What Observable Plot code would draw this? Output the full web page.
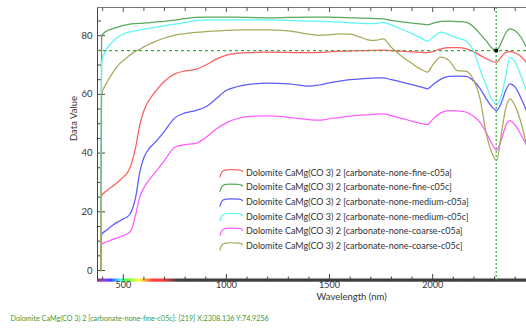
<!DOCTYPE html>
<html><head><meta charset="utf-8">
<script src="https://cdn.jsdelivr.net/npm/d3@7"></script>
<script src="https://cdn.jsdelivr.net/npm/@observablehq/plot@0.6"></script>
<style>body{margin:0;background:#fff;} #chart{width:526px;height:329px;overflow:hidden}</style>
</head><body><div id="chart"></div>
<script>
// ---- data ----
const wavelengths = [390,395,420,450,480,500,520,540,560,580,600,625,650,700,750,800,850,900,950,1000,1050,1100,1200,1300,1400,1450,1500,1550,1600,1650,1700,1730,1760,1800,1850,1900,1950,1975,2000,2040,2080,2120,2160,2200,2230,2260,2285,2310,2335,2355,2375,2400,2430,2460];
const fineC05a   = [0,25.5,27.2,28.8,30.5,31.8,33.3,36.5,42,49.5,54.5,58,60.5,64.5,67,68,68.5,70,72,73.4,74,74.2,74.4,74.3,74.2,74.3,74.5,74.7,74.8,74.9,75.0,75.0,75.1,74.9,74.7,74.5,74.3,74.2,74.6,75.5,75.9,75.9,75.6,74.5,73.3,72.2,71.3,71.0,73.0,74.3,74.6,74.2,72.8,70.3];
const fineC05c   = [0,80.0,81.6,82.4,83.1,83.5,83.8,84.0,84.1,84.2,84.3,84.4,84.6,84.9,85.3,85.8,86.2,86.3,86.3,86.3,86.3,86.2,86.1,86.2,86.3,86.3,86.3,86.2,86.1,86.0,85.9,85.8,85.7,85.2,84.7,84.3,83.9,83.7,84.2,84.9,85.0,84.8,84.6,82.9,80.6,78.2,76.0,74.9,78.0,81.0,82.3,81.7,79.3,75.3];
const mediumC05a = [0,12.3,13.8,15.5,16.8,17.6,18.3,20.2,25,33.5,38.5,41.5,43.3,47.5,52.0,53.7,54.5,55.8,58.5,61.4,62.6,63.3,63.8,63.6,62.8,63.2,63.9,64.5,65.0,65.3,65.5,65.6,65.6,65.0,64.2,63.3,62.4,61.9,63.2,65.2,66.1,66.2,66.1,64.5,62.0,58.5,56.0,54.5,57.5,61.5,63.6,62.5,58.5,53.5];
const mediumC05c = [0,71.0,75.5,78.0,79.8,80.5,81.1,81.4,81.7,82.0,82.2,82.5,82.8,83.4,83.9,84.5,85.1,85.3,85.4,85.4,85.4,85.4,85.4,85.2,85.0,84.9,84.8,84.6,84.4,84.2,84.1,84.2,84.5,83.6,82.2,80.7,79.0,78.1,79.4,81.2,80.3,79.2,78.3,74.5,68.5,63.0,58.5,56.5,60.0,66.5,72.5,71.0,66.0,60.0];
const coarseC05a = [0,9.0,9.8,10.6,11.4,11.9,12.5,14.0,19.0,25.0,28.2,30.8,33.0,37.5,42.0,42.9,43.3,45.3,48.2,50.3,51.7,52.4,52.7,52.2,51.4,51.2,51.7,52.2,52.6,52.9,53.1,53.3,53.4,52.8,51.8,50.9,50.0,49.7,51.5,53.7,54.5,54.4,54.0,52.5,50.5,47.0,43.5,41.0,45.0,49.5,51.1,49.5,46.0,42.0];
const coarseC05c = [0,60.0,64.0,67.5,70.3,71.5,72.7,73.8,74.7,75.4,76.2,77.1,77.9,79.2,80.2,80.7,81.1,81.4,81.6,81.8,81.9,82.0,82.0,81.6,80.5,80.1,80.3,80.6,80.5,79.5,78.4,78.5,78.9,76.0,73.0,70.5,68.3,67.6,70.0,72.7,71.5,68.1,67.9,64.7,58.5,46.5,40.5,37.5,47.5,55.5,58.5,56.0,50.0,41.0];

const seriesNames = [
  "Dolomite CaMg(CO 3) 2 [carbonate-none-fine-c05a]",
  "Dolomite CaMg(CO 3) 2 [carbonate-none-fine-c05c]",
  "Dolomite CaMg(CO 3) 2 [carbonate-none-medium-c05a]",
  "Dolomite CaMg(CO 3) 2 [carbonate-none-medium-c05c]",
  "Dolomite CaMg(CO 3) 2 [carbonate-none-coarse-c05a]",
  "Dolomite CaMg(CO 3) 2 [carbonate-none-coarse-c05c]"
];
const seriesValues = [fineC05a, fineC05c, mediumC05a, mediumC05c, coarseC05a, coarseC05c];
const seriesColors = ["#ff5c5c","#5aa65a","#5c5cff","#5cf6f6","#ff5cff","#a8a85c"];
const yTickLabels = [0,20,40,60,80];
const xTickLabels = [500,1000,1500,2000];
const cursorX = 2308.136, cursorY = 74.9256;
const statusText = "Dolomite CaMg(CO 3) 2 [carbonate-none-fine-c05c]: [219] X:2308.136 Y:74.9256";
const xLabel = "Wavelength (nm)", yLabel = "Data Value";

// ---- layout ----
const W = 526, H = 329, mL = 97, mR = 0, mT = 7, mB = 49;
const xDom = [375, 2455], yDom = [-3.4, 89.6];
const pxX = (W - mL - mR) / (xDom[1] - xDom[0]);
const pxY = (H - mT - mB) / (yDom[1] - yDom[0]);
const invX = px => xDom[0] + (px - mL) / pxX;
const invY = py => yDom[1] - (py - mT) / pxY;

const rows = [];
seriesNames.forEach((s, i) => wavelengths.forEach((w, j) => rows.push({s, w, v: seriesValues[i][j]})));

function specColor(w) {
  let r = 0, g = 0, b = 0;
  if (w < 440) { r = (440 - w) / 60; b = 1; }
  else if (w < 490) { g = (w - 440) / 50; b = 1; }
  else if (w < 510) { g = 1; b = (510 - w) / 20; }
  else if (w < 580) { r = (w - 510) / 70; g = 1; }
  else if (w < 645) { r = 1; g = (645 - w) / 65; }
  else { r = 1; }
  let f = w < 420 ? 0.35 + 0.65 * (w - 380) / 40 : w <= 690 ? 1 : w < 770 ? Math.max(0, (770 - w) / 80) : 0;
  f = Math.max(0, Math.min(1, f));
  return d3.rgb(255 * r * f, 255 * g * f, 255 * b * f).toString();
}
const specBins = d3.range(xDom[0], xDom[1], 2);

// legend
const legRowY = seriesNames.map((s, i) => 172.3 + i * 14.65);
const sampleShape = [[0,4],[1,0.8],[3,-2],[6,-3],[18,-3],[21,-2.6],[22.5,-1.2]];
const legendSample = [];
seriesNames.forEach((s, i) => sampleShape.forEach(([dx, dy]) => legendSample.push({s, x: invX(219.5 + dx), y: invY(legRowY[i] + dy)})));
const legendText = seriesNames.map((s, i) => ({s, x: invX(245.5), y: invY(legRowY[i])}));

const yTicksAll = d3.range(0, 90, 5);
const xTicksAll = d3.range(400, xDom[1], 100);

const plot = Plot.plot({
  width: W, height: H, marginLeft: mL, marginRight: mR, marginTop: mT, marginBottom: mB,
  style: {fontFamily: "Lato, 'Open Sans', sans-serif", fontSize: "9px", color: "#333", background: "#fff", overflow: "visible"},
  x: {domain: xDom},
  y: {domain: yDom},
  color: {domain: seriesNames, range: seriesColors},
  marks: [
    // spectrum axis bar
    Plot.rect(specBins, {x1: d => d, x2: d => d + 2.2, y1: yDom[0] - 1.6 / pxY, y2: yDom[0] + 1.4 / pxY, fill: d => specColor(d + 1)}),
    // frame lines
    Plot.ruleX([xDom[0]], {stroke: "#444", strokeWidth: 1}),
    Plot.ruleY([yDom[1]], {stroke: "#777", strokeWidth: 1}),
    // ticks
    Plot.ruleY(yTicksAll, {y: d => d, x1: xDom[0], x2: d => xDom[0] + (d % 20 === 0 ? 8 : 4) / pxX, stroke: "#444"}),
    Plot.ruleX(xTicksAll, {x: d => d, y1: yDom[0], y2: d => yDom[0] + (d % 500 === 0 ? 6 : 3.5) / pxY, stroke: "#444"}),
    Plot.ruleX(xTicksAll, {x: d => d, y1: d => yDom[1] - (d % 500 === 0 ? 5 : 4) / pxY, y2: yDom[1], stroke: "#555"}),
    // tick labels
    Plot.axisY({ticks: yTickLabels, tickSize: 0, tickPadding: 5, label: null, fill: "#333", fontSize: 9.5, tickFormat: d => String(d)}),
    Plot.axisX({ticks: xTickLabels, tickSize: 0, tickPadding: 1, label: null, fill: "#333", fontSize: 9, tickFormat: d => String(d)}),
    // series
    Plot.line(rows, {x: "w", y: "v", z: "s", stroke: "s", strokeWidth: 1.25, curve: "monotone-x", clip: true}),
    // cursor
    Plot.ruleX([cursorX], {stroke: "#3caa3c", strokeWidth: 1.2, strokeDasharray: "2,2"}),
    Plot.ruleY([cursorY], {stroke: "#3caa3c", strokeWidth: 1.2, strokeDasharray: "3,3"}),
    Plot.dot([[cursorX, cursorY]], {x: d => d[0], y: d => d[1], r: 2, fill: "#000", symbol: "square"}),
    // legend
    Plot.line(legendSample, {x: "x", y: "y", z: "s", stroke: "s", strokeWidth: 1.2, curve: "catmull-rom"}),
    Plot.text(legendText, {x: "x", y: "y", text: "s", textAnchor: "start", fill: "#333", fontSize: 9}),
    // axis titles
    Plot.text([xLabel], {frameAnchor: "bottom-left", dx: 316 - mL, dy: 19, text: d => d, fill: "#333", fontSize: 9.5}),
    Plot.text([yLabel], {frameAnchor: "left", dx: 73 - mL, dy: -3, rotate: -90, text: d => d, fill: "#333", fontSize: 9.5}),
    // status text
    Plot.text([statusText], {frameAnchor: "bottom-left", dx: 10 - mL, dy: 40, textAnchor: "start", text: d => d, fill: "#3a9a3a", fontSize: 7.2})
  ]
});
document.getElementById("chart").append(plot);
</script>
</body></html>
